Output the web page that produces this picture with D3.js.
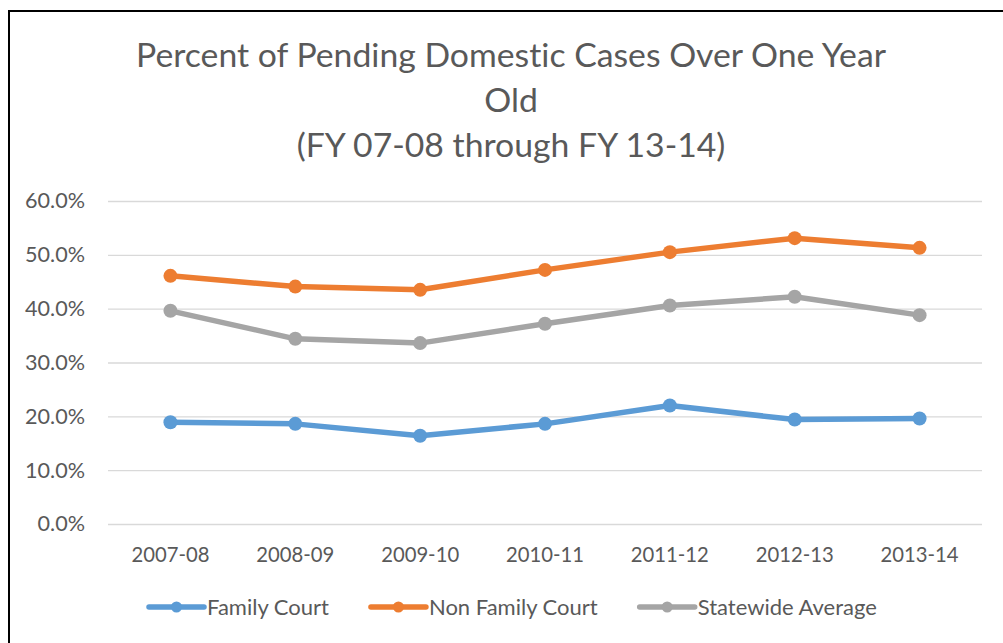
<!DOCTYPE html>
<html>
<head>
<meta charset="utf-8">
<script src="https://cdn.jsdelivr.net/npm/d3@7"></script>
<style>
  body { margin: 0; background: #fff; }
  svg { display: block; }
  text { font-variant-ligatures: none; font-feature-settings: "liga" 0, "dlig" 0; }
</style>
</head>
<body>
<svg width="1003" height="643"></svg>
<script>
// data
const years = ['2007-08', '2008-09', '2009-10', '2010-11', '2011-12', '2012-13', '2013-14'];
const familyCourt = [18.9, 18.6, 16.4, 18.6, 22.0, 19.4, 19.6];
const nonFamilyCourt = [46.1, 44.1, 43.5, 47.2, 50.5, 53.1, 51.3];
const statewideAverage = [39.6, 34.4, 33.6, 37.2, 40.6, 42.2, 38.8];
const yTicks = [0, 10, 20, 30, 40, 50, 60];
const titleLines = ['Percent of Pending Domestic Cases Over One Year', 'Old', '(FY 07-08 through FY 13-14)'];
const seriesNames = ['Family Court', 'Non Family Court', 'Statewide Average'];
const seriesColors = ['#5b9bd5', '#ed7d31', '#a5a5a5'];

const series = [familyCourt, nonFamilyCourt, statewideAverage].map((vals, i) => ({
  name: seriesNames[i],
  color: seriesColors[i],
  values: vals.map((v, j) => ({ year: years[j], value: v }))
}));

const font = 'Lato, "Open Sans", sans-serif';
const textColor = '#595959';
const margin = { top: 201, right: 21, bottom: 119, left: 108 };
const width = 1003, height = 643;

const svg = d3.select('svg');

// shrink/grow a text's font so it spans a given width
function fitWidth(sel, target, start) {
  sel.attr('font-size', start);
  const w = sel.node().getComputedTextLength();
  const size = start * target / w;
  sel.attr('font-size', size);
  return size;
}

// outer frame (only left and top edges are visible)
svg.append('path')
  .attr('d', 'M9,643 V11 H1003')
  .attr('fill', 'none')
  .attr('stroke', '#000')
  .attr('stroke-width', 2);

// scales
const x = d3.scaleBand()
  .domain(years)
  .range([margin.left, width - margin.right])
  .paddingInner(0);
const cx = d => x(d) + x.bandwidth() / 2;

const y = d3.scaleLinear()
  .domain([0, 60])
  .range([height - margin.bottom, margin.top]);

// title
const title = svg.append('g')
  .attr('font-family', font)
  .attr('fill', textColor)
  .attr('text-anchor', 'middle');
const t0 = title.append('text').attr('x', 511).attr('y', 67).text(titleLines[0]);
const titleSize = fitWidth(t0, 750, 40);
title.selectAll('text.rest')
  .data(titleLines.slice(1))
  .join('text')
  .attr('class', 'rest')
  .attr('x', 511)
  .attr('y', (d, i) => 112 + i * 45)
  .attr('font-size', titleSize)
  .text(d => d);

// y axis with gridlines
const yAxis = svg.append('g')
  .attr('transform', `translate(${margin.left},0)`)
  .call(d3.axisLeft(y)
    .tickValues(yTicks)
    .tickFormat(d => d.toFixed(1) + '%')
    .tickSize(-(width - margin.left - margin.right))
    .tickPadding(23));
yAxis.select('.domain').remove();
yAxis.selectAll('.tick line').attr('stroke', '#d9d9d9').attr('stroke-width', 1.3);
yAxis.selectAll('.tick text')
  .attr('font-family', font)
  .attr('fill', textColor);
const ySize = fitWidth(yAxis.select('.tick:last-of-type text'), 60, 18);
yAxis.selectAll('.tick text').attr('font-size', ySize);

// x axis
const xAxis = svg.append('g')
  .attr('transform', `translate(0,${height - margin.bottom})`)
  .call(d3.axisBottom(x).tickSize(0).tickPadding(24));
xAxis.select('.domain').remove();
xAxis.selectAll('.tick text')
  .attr('font-family', font)
  .attr('fill', textColor);
const xSize = fitWidth(xAxis.select('.tick text'), 78, 18);
xAxis.selectAll('.tick text').attr('font-size', xSize);

// lines + markers
const line = d3.line()
  .x(d => cx(d.year))
  .y(d => y(d.value));

const sg = svg.selectAll('g.series')
  .data(series)
  .join('g')
  .attr('class', 'series');

sg.append('path')
  .attr('d', d => line(d.values))
  .attr('fill', 'none')
  .attr('stroke', d => d.color)
  .attr('stroke-width', 5.5)
  .attr('stroke-linejoin', 'round');

sg.selectAll('circle')
  .data(d => d.values.map(v => ({ ...v, color: d.color })))
  .join('circle')
  .attr('cx', d => cx(d.year))
  .attr('cy', d => y(d.value))
  .attr('r', 7)
  .attr('fill', d => d.color);

// legend
const legend = svg.append('g').attr('font-family', font);
const items = legend.selectAll('g')
  .data(series)
  .join('g');
items.append('line')
  .attr('x1', 0).attr('x2', 55)
  .attr('y1', 0).attr('y2', 0)
  .attr('stroke', d => d.color)
  .attr('stroke-width', 5.5)
  .attr('stroke-linecap', 'round');
items.append('circle')
  .attr('cx', 27.5).attr('cy', 0).attr('r', 5.5)
  .attr('fill', d => d.color);
const ltext = items.append('text')
  .attr('x', 58)
  .attr('dy', '0.35em')
  .attr('fill', textColor)
  .text(d => d.name);
const lSize = fitWidth(d3.select(ltext.nodes()[0]), 122, 18);
ltext.attr('font-size', lSize);

let lx = 149;
items.each(function() {
  const g = d3.select(this);
  g.attr('transform', `translate(${lx},607)`);
  lx += 58 + g.select('text').node().getComputedTextLength() + 42;
});
</script>
</body>
</html>
